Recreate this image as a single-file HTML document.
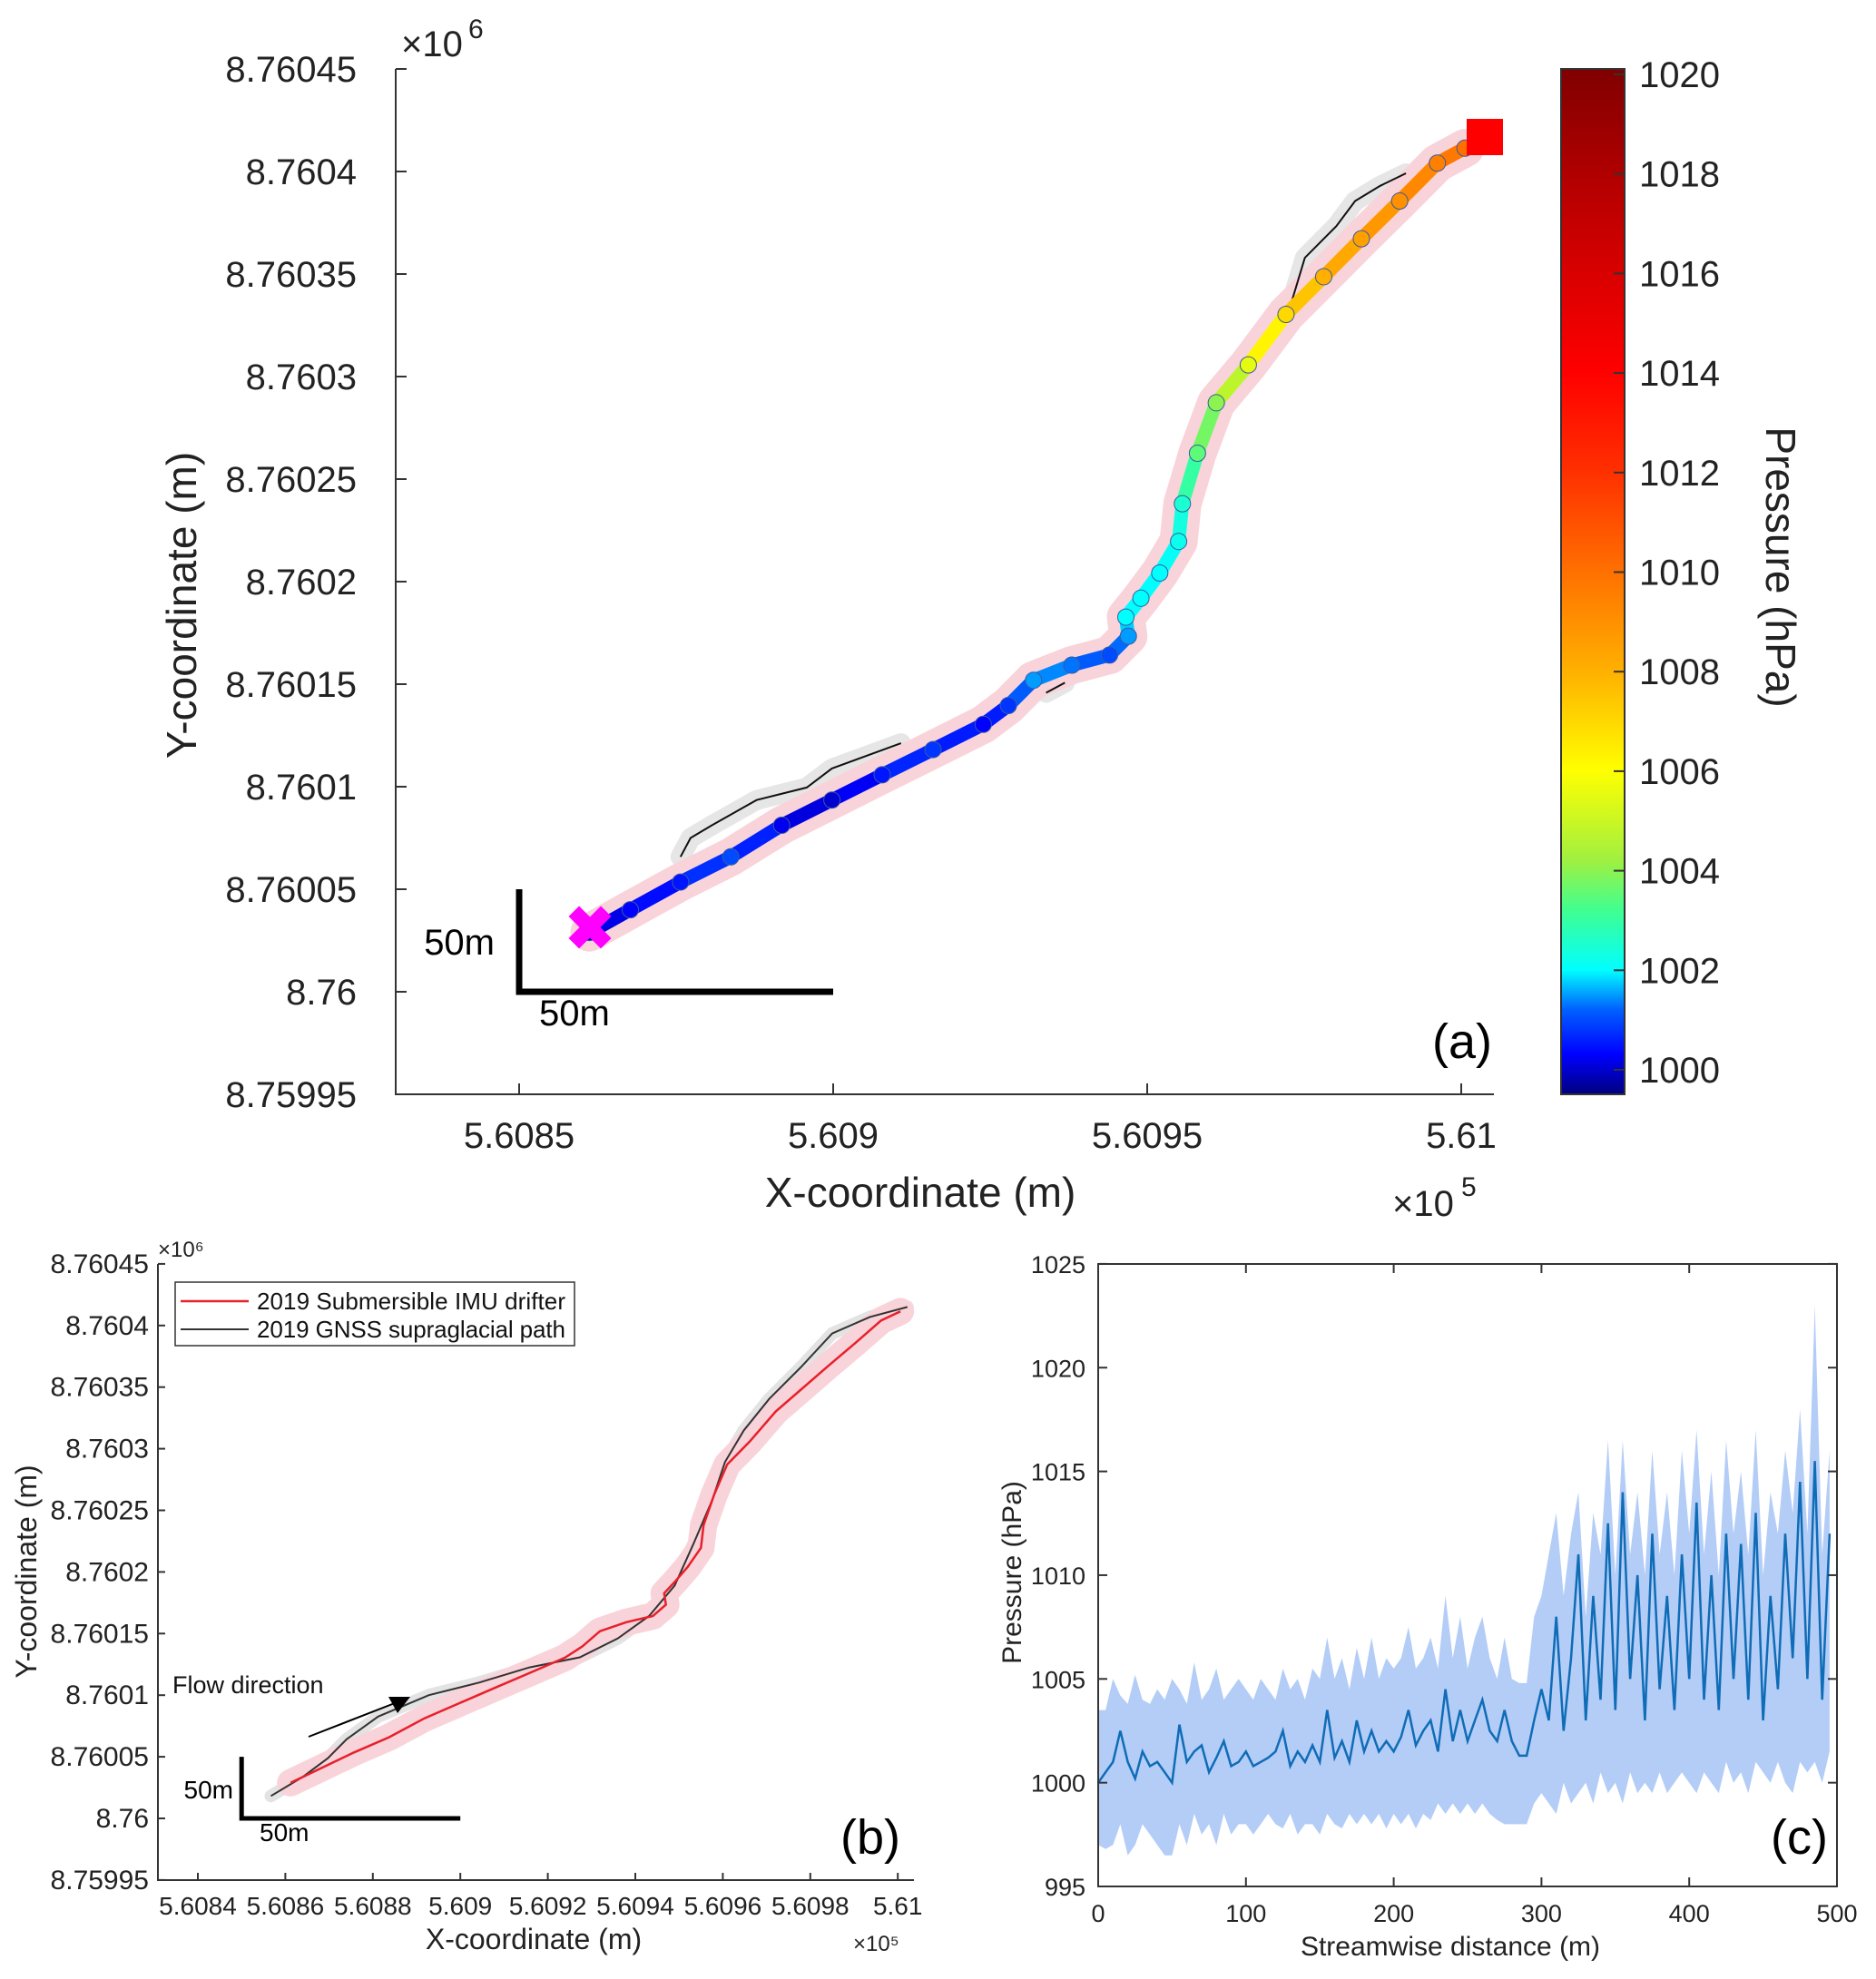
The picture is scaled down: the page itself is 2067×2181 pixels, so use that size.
<!DOCTYPE html>
<html><head><meta charset="utf-8"><style>
html,body{margin:0;padding:0;background:#fff;}
svg{display:block;font-family:"Liberation Sans",sans-serif;}
</style></head><body>
<svg id="fig" width="2067" height="2181" viewBox="0 0 2067 2181" xmlns="http://www.w3.org/2000/svg">
<defs>
<linearGradient id="jet" x1="0" y1="1" x2="0" y2="0"></linearGradient>
</defs>
<g id="pa"></g>
<g id="pb"></g>
<g id="pc"></g>
</svg>
<script>
// ---- data (meters relative to x=560850, y=8760000) ----
const driftX=[11.2,17.7,25.7,33.7,41.8,49.8,57.8,65.9,73.9,77.9,81.9,88.0,94.0,97.0,96.6,99.0,102.0,105.0,105.6,108.0,111.0,116.1,122.1,128.1,134.1,140.2,146.2,150.6];
const driftY=[28.9,40.0,53.5,65.8,81.2,93.5,105.8,118.1,130.4,139.6,151.9,159.3,164.2,173.4,182.7,191.9,204.2,219.6,238.0,262.6,287.2,305.7,330.3,348.7,367.2,385.6,404.1,411.4];
const driftP=[1000,1000.3,1000.5,1001,1000.2,1000,1000.5,1000.8,1000.3,1000.8,1001.5,1001.3,1001,1001.5,1002,1002,1002,1002.2,1002.5,1003.5,1004,1005.5,1007,1008,1008.5,1009,1009.5,1010];
const gnssAX1=[25.7,27.3,30.7,37.8,45.8,49.8,60.8];
const gnssAY1=[65.8,75.0,81.2,93.5,99.6,108.9,121.2];
const gnssAX2=[83.9,86.9];
const gnssAY2=[145.8,150.7];
const gnssAX3=[123.1,125.1,130.1,133.1,137.1,141.2];
const gnssAY3=[337.6,357.9,373.3,385.6,393.0,399.1];
const gnssBX=[6.7,13.9,19.7,24.0,31.2,42.8,54.3,65.8,77.3,86.0,93.2,99.0,103.3,107.6,110.5,114.8,120.6,127.8,135.0,143.6,152.2];
const gnssBY=[18.2,33.5,48.8,64.2,82.6,100.0,110.2,122.5,130.7,146.0,164.4,189.0,222.8,258.5,289.2,314.8,340.4,366.0,393.5,406.9,415.0];
const yTickLabels=["8.75995","8.76","8.76005","8.7601","8.76015","8.7602","8.76025","8.7603","8.76035","8.7604","8.76045"];
const yTickVals=[-50,0,50,100,150,200,250,300,350,400,450];
const xTickLabelsA=["5.6085","5.609","5.6095","5.61"];
const xTickValsA=[0,50,100,150];
const xTickLabelsB=["5.6084","5.6086","5.6088","5.609","5.6092","5.6094","5.6096","5.6098","5.61"];
const xTickValsB=[-10,10,30,50,70,90,110,130,150];
const cbTicks=[1000,1002,1004,1006,1008,1010,1012,1014,1016,1018,1020];
const cmapP=[999.5,1000.3,1001.2,1002,1003.2,1004.2,1006,1008,1010,1012,1014,1016,1018,1020.1];
const cmapC=["#00007f","#0000ff","#0060ff","#00ffff","#40ff90","#a0f040","#ffff00","#ffb000","#ff7000","#ff3000","#ff0000","#d80000","#b00000","#800000"];
// panel c: streamwise distance step 5 m
const distC=[];for(let i=0;i<100;i++)distC.push(i*5);
const presMid=[1000,1000.5,1001,1002.5,1001,1000.2,1001.5,1000.8,1001,1000.5,
1000,1002.8,1001,1001.5,1001.8,1000.5,1001.2,1002,1000.8,1001,
1001.5,1000.8,1001,1001.2,1001.5,1002.5,1000.8,1001.5,1001,1001.8,
1001,1003.5,1001.2,1002,1001,1003,1001.5,1002.5,1001.5,1002,
1001.5,1002.2,1003.5,1001.8,1002.5,1003,1001.5,1004.5,1002,1003.5,
1002,1003,1004,1002.5,1002,1003.5,1002,1001.3,1001.3,1003,
1004.5,1003,1008,1002.5,1006,1011,1003,1009,1004,1012.5,
1003.5,1014,1005,1010,1003,1012,1004.5,1009,1003.5,1011,
1005,1013.5,1004,1010,1003.5,1012,1005,1011.5,1004,1013,
1003,1009,1004.5,1012,1006,1014.5,1005,1015.5,1004,1012];
const presUp=[1003.5,1003.5,1005,1004.2,1003.8,1005.2,1004,1003.8,1004.5,1004,
1005,1004.5,1003.8,1005.8,1004,1004.5,1005.5,1004,1004.5,1005,
1004.5,1004,1005,1004.5,1004,1005.5,1004.5,1005,1004,1005.5,
1005,1007,1005,1006,1004.5,1006.5,1005,1007,1005,1006,
1005.5,1006,1007.5,1005.5,1006,1007,1005.5,1009,1006,1008,
1005.5,1007,1008,1006,1005,1007,1005,1004.8,1004.8,1008,
1009,1011,1013,1009,1012,1014,1008,1013,1011,1016.5,
1010,1016.5,1011,1014,1010,1016,1011,1014,1010,1016,
1012,1017,1011,1015,1010,1016.5,1012,1015,1011,1017,
1010,1014,1012,1016,1013,1018,1012,1023,1011,1016];
const presLo=[997,996.8,997,998,996.5,997,998,997.5,997,996.5,
996.5,998,997,998.5,997.5,998,997,998.5,997.5,998,
998,997.5,998,998.5,998,997.8,998.5,997.5,998,998,
997.5,998.5,998,997.8,998.5,998,998.5,998,998.5,997.8,
998.5,998,998.5,997.8,998.5,998.2,999,998.5,999,998.5,
999,998.5,999,998.5,998.2,998,998,998,998,999,
999.5,999,998.5,1000,999,999.5,1000,999,1000.5,999.5,
1000,999,1000.5,999.5,1000,999.5,1000.5,999.5,1000,1000.5,
1000,999.5,1000.5,1000,999.5,1001,1000,1000.5,999.5,1001,
1000.5,1000,1001,1000,999.5,1001,1000.5,1001,1000,1001.5];
const xTickC=[0,100,200,300,400,500];
const yTickC=[995,1000,1005,1010,1015,1020,1025];

const NS="http://www.w3.org/2000/svg";
function mk(parent,tag,attrs,text){const e=document.createElementNS(NS,tag);for(const k in attrs)e.setAttribute(k,attrs[k]);if(text!==undefined)e.textContent=text;parent.appendChild(e);return e;}
function hex(h){return [1,3,5].map(i=>parseInt(h.substr(i,2),16));}
function jet(p){
 if(p<=cmapP[0])return cmapC[0];
 for(let i=1;i<cmapP.length;i++){if(p<=cmapP[i]){const t=(p-cmapP[i-1])/(cmapP[i]-cmapP[i-1]);const a=hex(cmapC[i-1]),b=hex(cmapC[i]);
  return `rgb(${a.map((v,k)=>Math.round(v+(b[k]-v)*t)).join(',')})`;}}
 return cmapC[cmapC.length-1];}
function pts(xs,ys,fx,fy){return xs.map((x,i)=>fx(x).toFixed(1)+","+fy(ys[i]).toFixed(1)).join(" ");}
// gradient stops
(function(){const g=document.getElementById('jet');const lo=cmapP[0],hi=cmapP[cmapP.length-1];
 cmapP.forEach((p,i)=>mk(g,'stop',{offset:((p-lo)/(hi-lo)).toFixed(4),'stop-color':cmapC[i]}));})();

// ===== Panel A =====
const A=document.getElementById('pa');
const xA=m=>572+m*6.92, yA=m=>1093-m*2.26;
let e;
[[gnssAX1,gnssAY1],[gnssAX2,gnssAY2],[gnssAX3,gnssAY3]].forEach(([xs,ys])=>{
 e=mk(A,'polyline',{points:pts(xs,ys,xA,yA),fill:'none',stroke:'#e6e6e6','stroke-width':22,'stroke-linejoin':'round','stroke-linecap':'round'});
 });
e=mk(A,'polyline',{points:pts(driftX,driftY,xA,yA),fill:'none',stroke:'#f9d3da','stroke-width':42,'stroke-linejoin':'round','stroke-linecap':'round'});

[[gnssAX1,gnssAY1],[gnssAX2,gnssAY2],[gnssAX3,gnssAY3]].forEach(([xs,ys])=>{
 e=mk(A,'polyline',{points:pts(xs,ys,xA,yA),fill:'none',stroke:'#111','stroke-width':2});
 });
for(let i=0;i<driftX.length-1;i++){
 e=mk(A,'line',{x1:xA(driftX[i]),y1:yA(driftY[i]),x2:xA(driftX[i+1]),y2:yA(driftY[i+1]),stroke:jet((driftP[i]+driftP[i+1])/2),'stroke-width':15,'stroke-linecap':'round'});
 }
for(let i=0;i<driftX.length;i++){
 e=mk(A,'circle',{cx:xA(driftX[i]),cy:yA(driftY[i]),r:9,fill:jet(driftP[i]),stroke:'#3a5aa0','stroke-width':1});
 }
// axes
e=mk(A,'path',{d:'M436,76 V1206 H1646',fill:'none',stroke:'#333','stroke-width':2});

yTickVals.forEach((v,i)=>{const y=yA(v);
 mk(A,'line',{x1:436,y1:y,x2:448,y2:y,stroke:'#333','stroke-width':2});
 e=mk(A,'text',{x:393,y:y+14,'font-size':40,'text-anchor':'end',fill:'#222'},yTickLabels[i]);
 });
xTickValsA.forEach((v,i)=>{const x=xA(v);
 mk(A,'line',{x1:x,y1:1206,x2:x,y2:1194,stroke:'#333','stroke-width':2});
 e=mk(A,'text',{x:x,y:1265,'font-size':40,'text-anchor':'middle',fill:'#222'},xTickLabelsA[i]);
 });
e=mk(A,'path',{d:`M${xA(0)},${yA(50)} V${yA(0)} H${xA(50)}`,fill:'none',stroke:'#000','stroke-width':7});

e=mk(A,'text',{x:650,y:1046,'font-size':66,'font-weight':'bold','text-anchor':'middle',fill:'#ff00ff'},'✖');

e=mk(A,'rect',{x:1616,y:131,width:40,height:40,fill:'#ff0000'});

e=mk(A,'rect',{x:1720,y:76,width:70,height:1130,fill:'url(#jet)',stroke:'#333','stroke-width':2});

const yCB=p=>1179-(p-1000)*54.85;
cbTicks.forEach(p=>{const y=yCB(p);
 mk(A,'line',{x1:1778,y1:y,x2:1790,y2:y,stroke:'#333','stroke-width':2});
 e=mk(A,'text',{x:1806,y:y+14,'font-size':40,fill:'#222'},String(p));
 });
</script>
<script>
(function(){
const A=document.getElementById('pa');
const items=[
 ['text',{x:442,y:62,'font-size':40,fill:'#222'},'×10','multiplier-y'],
 ['text',{x:516,y:42,'font-size':30,fill:'#222'},'6','multiplier-y-exp'],
 ['text',{x:1534,y:1340,'font-size':40,fill:'#222'},'×10','multiplier-x'],
 ['text',{x:1610,y:1318,'font-size':30,fill:'#222'},'5','multiplier-x-exp'],
 ['text',{x:1014,y:1330,'font-size':46,'text-anchor':'middle',fill:'#222'},'X-coordinate (m)','x-axis-title'],
 ['text',{x:0,y:0,'font-size':46,'text-anchor':'middle',fill:'#222',transform:'translate(216,667) rotate(-90)'},'Y-coordinate (m)','y-axis-title'],
 ['text',{x:0,y:0,'font-size':46,'text-anchor':'middle',fill:'#222',transform:'translate(1946,625) rotate(90)'},'Pressure (hPa)','colorbar-title'],
 ['text',{x:545,y:1052,'font-size':40,'text-anchor':'end',fill:'#000'},'50m','scale-label-y'],
 ['text',{x:594,y:1130,'font-size':40,fill:'#000'},'50m','scale-label-x'],
 ['text',{x:1644,y:1166,'font-size':54,'text-anchor':'end',fill:'#000'},'(a)','panel-label-a']];
items.forEach(([t,a,txt,n])=>{const e=document.createElementNS("http://www.w3.org/2000/svg",t);for(const k in a)e.setAttribute(k,a[k]);e.textContent=txt;A.appendChild(e);
 
 });
})();
</script>
<script>
// ===== Panel B =====
(function(){
const B=document.getElementById('pb');
const xB=m=>266.2+m*4.82, yB=m=>2004-m*1.358;
let e;
e=mk(B,'polyline',{points:pts(gnssBX,gnssBY,xB,yB),fill:'none',stroke:'#e3e3e3','stroke-width':14,'stroke-linejoin':'round','stroke-linecap':'round'});

e=mk(B,'polyline',{points:pts(driftX,driftY,xB,yB),fill:'none',stroke:'#f9d3da','stroke-width':30,'stroke-linejoin':'round','stroke-linecap':'round'});

e=mk(B,'polyline',{points:pts(gnssBX,gnssBY,xB,yB),fill:'none',stroke:'#333','stroke-width':2});

e=mk(B,'polyline',{points:pts(driftX,driftY,xB,yB),fill:'none',stroke:'#e8202a','stroke-width':2.5});

e=mk(B,'path',{d:'M174,1393 V2072 H1007',fill:'none',stroke:'#333','stroke-width':2});

yTickVals.forEach((v,i)=>{const y=yB(v);
 mk(B,'line',{x1:174,y1:y,x2:182,y2:y,stroke:'#333','stroke-width':2});
 e=mk(B,'text',{x:164,y:y+10,'font-size':30,'text-anchor':'end',fill:'#222'},yTickLabels[i]);
 });
xTickValsB.forEach((v,i)=>{const x=xB(v);
 mk(B,'line',{x1:x,y1:2072,x2:x,y2:2064,stroke:'#333','stroke-width':2});
 e=mk(B,'text',{x:x,y:2110,'font-size':28,'text-anchor':'middle',fill:'#222'},xTickLabelsB[i]);
 });
e=mk(B,'path',{d:`M${xB(0)},${yB(50)} V${yB(0)} H${xB(50)}`,fill:'none',stroke:'#000','stroke-width':5});

e=mk(B,'line',{x1:340,y1:1914,x2:440,y2:1875,stroke:'#000','stroke-width':2});

e=mk(B,'polygon',{points:'452,1870 428,1870 438,1888',fill:'#000'});

e=mk(B,'rect',{x:193,y:1413,width:440,height:70,fill:'#fff',stroke:'#333','stroke-width':1.5});

e=mk(B,'line',{x1:199,y1:1434,x2:274,y2:1434,stroke:'#e8202a','stroke-width':2.5});

e=mk(B,'text',{x:283,y:1443,'font-size':26,fill:'#111',textLength:340},'2019 Submersible IMU drifter');

e=mk(B,'line',{x1:199,y1:1465,x2:274,y2:1465,stroke:'#333','stroke-width':2});

e=mk(B,'text',{x:283,y:1474,'font-size':26,fill:'#111',textLength:340},'2019 GNSS supraglacial path');

const items=[
 [{x:190,y:1866,'font-size':27,fill:'#111'},'Flow direction','flow-direction-label'],
 [{x:174,y:1385,'font-size':24,fill:'#222'},'×10⁶','multiplier-y'],
 [{x:940,y:2150,'font-size':24,fill:'#222'},'×10⁵','multiplier-x'],
 [{x:588,y:2148,'font-size':32,'text-anchor':'middle',fill:'#222'},'X-coordinate (m)','x-axis-title'],
 [{x:0,y:0,'font-size':32,'text-anchor':'middle',fill:'#222',transform:'translate(40,1732) rotate(-90)'},'Y-coordinate (m)','y-axis-title'],
 [{x:257,y:1982,'font-size':28,'text-anchor':'end',fill:'#000'},'50m','scale-label-y'],
 [{x:286,y:2029,'font-size':28,fill:'#000'},'50m','scale-label-x'],
 [{x:992,y:2043,'font-size':54,'text-anchor':'end',fill:'#000'},'(b)','panel-label-b']];
items.forEach(([a,txt,n])=>{e=mk(B,'text',a,txt);
 
 });
})();
// ===== Panel C =====
(function(){
const C=document.getElementById('pc');
const xC=d=>1210+d*1.628, yC=p=>2079-(p-995)*22.87;
let e;
let up=distC.map((d,i)=>xC(d).toFixed(1)+","+yC(presUp[i]).toFixed(1));
let lo=distC.map((d,i)=>xC(d).toFixed(1)+","+yC(presLo[i]).toFixed(1)).reverse();
e=mk(C,'polygon',{points:up.concat(lo).join(" "),fill:'#b3cdf7'});

e=mk(C,'polyline',{points:pts(distC,presMid,xC,yC),fill:'none',stroke:'#0f6cb6','stroke-width':2.5});

e=mk(C,'rect',{x:1210,y:1393,width:814,height:686,fill:'none',stroke:'#333','stroke-width':2});

yTickC.forEach(p=>{const y=yC(p);
 mk(C,'line',{x1:1210,y1:y,x2:1220,y2:y,stroke:'#333','stroke-width':2});
 mk(C,'line',{x1:2024,y1:y,x2:2014,y2:y,stroke:'#333','stroke-width':2});
 e=mk(C,'text',{x:1196,y:y+10,'font-size':27,'text-anchor':'end',fill:'#222'},String(p));
 });
xTickC.forEach(d=>{const x=xC(d);
 mk(C,'line',{x1:x,y1:2079,x2:x,y2:2069,stroke:'#333','stroke-width':2});
 mk(C,'line',{x1:x,y1:1393,x2:x,y2:1403,stroke:'#333','stroke-width':2});
 e=mk(C,'text',{x:x,y:2118,'font-size':27,'text-anchor':'middle',fill:'#222'},String(d));
 });
e=mk(C,'text',{x:1598,y:2155,'font-size':30,'text-anchor':'middle',fill:'#222'},'Streamwise distance (m)');

e=mk(C,'text',{x:0,y:0,'font-size':30,'text-anchor':'middle',fill:'#222',transform:'translate(1125,1733) rotate(-90)'},'Pressure (hPa)');

e=mk(C,'text',{x:2014,y:2043,'font-size':54,'text-anchor':'end',fill:'#000'},'(c)');

})();
</script>
</body></html>
